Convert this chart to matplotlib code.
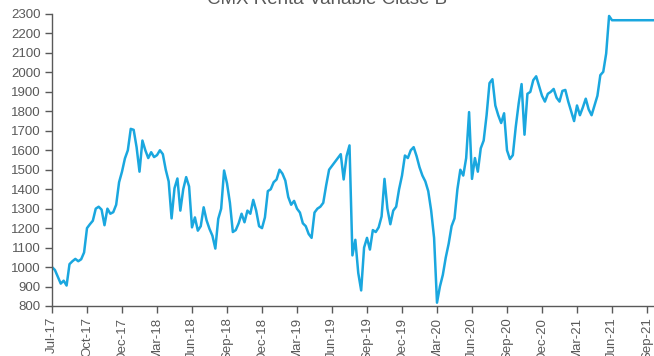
import numpy as np
import matplotlib
matplotlib.use("Agg")
import matplotlib.pyplot as plt

# weekly values (Jul-2017 .. Sep-2021)
values = [
    1000, 985, 950, 915, 930, 905, 1015, 1030, 1042, 1030,
    1040, 1075, 1200, 1220, 1238, 1300, 1310, 1295, 1215, 1300,
    1274, 1282, 1320, 1436, 1490, 1558, 1600, 1710, 1705, 1616,
    1490, 1650, 1600, 1560, 1590, 1565, 1575, 1600, 1580, 1500,
    1440, 1250, 1405, 1455, 1290, 1400, 1462, 1414, 1204, 1255,
    1187, 1210, 1307, 1240, 1196, 1161, 1095, 1248, 1300, 1496,
    1430, 1330, 1180, 1190, 1225, 1274, 1230, 1290, 1274, 1345,
    1290, 1210, 1200, 1255, 1390, 1400, 1436, 1450, 1500, 1480,
    1444, 1360, 1320, 1340, 1300, 1280, 1225, 1210, 1170, 1150,
    1280, 1300, 1310, 1330, 1420, 1500, 1520, 1540, 1560, 1580,
    1450, 1570, 1625, 1060, 1140, 970, 880, 1100, 1150, 1090,
    1190, 1180, 1204, 1260, 1453, 1300, 1220, 1290, 1310, 1400,
    1470, 1573, 1560, 1600, 1616, 1570, 1513, 1470, 1440, 1390,
    1290, 1150, 817, 900, 960, 1049, 1120, 1210, 1250, 1400,
    1500, 1470, 1560, 1796, 1453, 1560, 1490, 1610, 1650, 1780,
    1945, 1965, 1830, 1780, 1740, 1790, 1600, 1555, 1575, 1720,
    1840, 1940, 1680, 1890, 1900, 1960, 1980, 1930, 1880, 1850,
    1890, 1900, 1915, 1870, 1850, 1905, 1910, 1850, 1800, 1750,
    1830, 1780, 1820, 1865, 1810, 1780, 1830, 1880, 1986, 2003,
    2097, 2290, 2268, 2268, 2268, 2268, 2268, 2268, 2268, 2268,
    2268, 2268, 2268, 2268, 2268, 2268, 2268,
]
tick_labels = ["Jul-17", "Oct-17", "Dec-17", "Mar-18", "Jun-18", "Sep-18",
               "Dec-18", "Mar-19", "Jun-19", "Sep-19", "Dec-19", "Mar-20",
               "Jun-20", "Sep-20", "Dec-20", "Mar-21", "Jun-21", "Sep-21"]
title = "CMX Renta Variable Clase B"

plt.rcParams['font.family'] = ['Liberation Sans', 'DejaVu Sans']
grey = '#595959'

fig = plt.figure(figsize=(6.54, 3.56), dpi=100)
ax = fig.add_axes([52/654, 50/356, 602/654, 292/356])

x = np.arange(len(values))
ax.plot(x, values, color='#1aa7df', lw=1.8, solid_joinstyle='round')

ax.set_xlim(0, 602/35*12)
ax.set_ylim(800, 2300)
ax.set_yticks(np.arange(800, 2301, 100))
ax.set_xticks(np.arange(len(tick_labels)) * 12)
ax.set_xticklabels(tick_labels, rotation=90)

for s in ['top', 'right']:
    ax.spines[s].set_visible(False)
for s in ['left', 'bottom']:
    ax.spines[s].set_color(grey)
    ax.spines[s].set_linewidth(1.0)
ax.tick_params(colors=grey, labelsize=9.5, length=5, width=1.0, pad=3)
ax.tick_params(axis='x', labelcolor=grey)

fig.text(0.5, 1 - 4/356, title, ha='center', va='baseline',
         fontsize=13.5, color=grey)

fig.savefig('out.png', dpi=100, facecolor='white')
